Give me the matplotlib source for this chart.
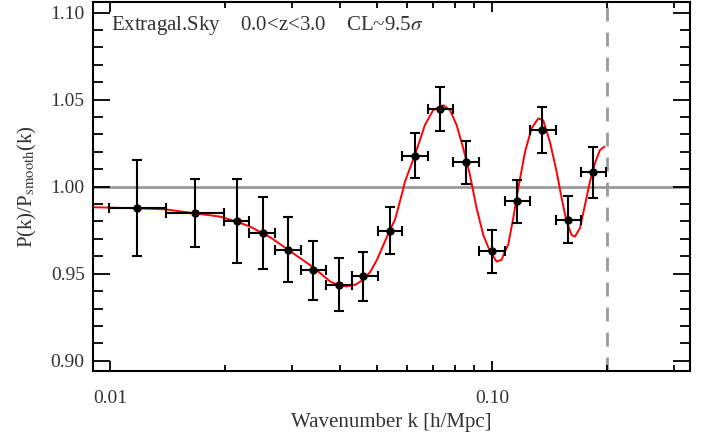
import numpy as np
import matplotlib
matplotlib.use('Agg')
import matplotlib.pyplot as plt
from matplotlib.ticker import FixedLocator, NullFormatter

plt.rcParams['font.family'] = ['Liberation Serif', 'DejaVu Serif']
plt.rcParams['mathtext.fontset'] = 'stix'

# binned measurements
k = [0.01177, 0.01669, 0.02147, 0.02515, 0.02931, 0.03405, 0.03976, 0.04605,
     0.05407, 0.06285, 0.07324, 0.0855, 0.1000, 0.1160, 0.1354, 0.1581, 0.1842]
k_lo = [0.00994, 0.01399, 0.01988, 0.02316, 0.02711, 0.03162, 0.03687, 0.04301,
        0.05017, 0.05824, 0.06800, 0.07926, 0.09247, 0.1081, 0.1258, 0.1468, 0.1707]
k_hi = [0.01399, 0.01988, 0.02316, 0.02711, 0.03162, 0.03687, 0.04301, 0.05017,
        0.05824, 0.06800, 0.07926, 0.09247, 0.1081, 0.1258, 0.1468, 0.1707, 0.1988]
ratio = [0.9876, 0.9849, 0.9803, 0.9733, 0.9637, 0.9519, 0.9437, 0.9484,
         0.9746, 1.0178, 1.0445, 1.0140, 0.9628, 0.9916, 1.0325, 0.9811, 1.0082]
ratio_err = [0.0277, 0.0194, 0.0239, 0.0208, 0.0187, 0.0170, 0.0153, 0.0142,
             0.0135, 0.0129, 0.0126, 0.0123, 0.0123, 0.0124, 0.0130, 0.0136, 0.0147]

# model curve
k_model = [0.00903, 0.01177, 0.01393, 0.01669, 0.01941, 0.02147, 0.02325, 0.02624,
           0.02930, 0.0340, 0.03767, 0.0395, 0.04166, 0.0440, 0.04603, 0.0480,
           0.0500, 0.05408, 0.05572, 0.05802, 0.05920, 0.06285, 0.06676, 0.07018,
           0.07456, 0.07765, 0.08084, 0.08413, 0.08759, 0.09119, 0.09489, 0.09881,
           0.1029, 0.1060, 0.1081, 0.1103, 0.1137, 0.1172, 0.1221, 0.1270,
           0.1322, 0.1362, 0.1418, 0.1477, 0.1522, 0.1568, 0.1616, 0.1649,
           0.1700, 0.1752, 0.1805, 0.1860, 0.1917, 0.1968]
r_model = [0.9882, 0.9876, 0.9870, 0.9847, 0.9828, 0.9799, 0.9771, 0.9710,
           0.9637, 0.9538, 0.9456, 0.9435, 0.9427, 0.9438, 0.9465, 0.9510,
           0.9580, 0.9752, 0.9809, 0.9952, 1.0029, 1.0182, 1.0354, 1.0440,
           1.0468, 1.0440, 1.0354, 1.0220, 1.0067, 0.9876, 0.9723, 0.9628,
           0.9570, 0.9580, 0.9628, 0.9666, 0.9819, 0.9991, 1.0201, 1.0335,
           1.0392, 1.0382, 1.0258, 1.0086, 0.9934, 0.9799, 0.9723, 0.9713,
           0.9762, 0.9895, 1.0029, 1.0134, 1.0210, 1.0229]

k_max = 0.2

fig = plt.figure(figsize=(7.14, 4.47), dpi=100)
ax = fig.add_axes([0.1303, 0.17, 0.8361, 0.8255])

ax.axhline(1.0, color='#999999', lw=2, zorder=1)
ax.axvline(k_max, color='#999999', lw=2, dashes=(5, 4), zorder=1)

ax.plot(k_model, r_model, color='red', lw=1.4, zorder=2)

k_arr = np.array(k)
xerr = [k_arr - np.array(k_lo), np.array(k_hi) - k_arr]
ax.errorbar(k, ratio, yerr=ratio_err, xerr=xerr, fmt='o', color='black',
            ms=5, elinewidth=1.5, capsize=3.5, capthick=1.5, zorder=3)

ax.set_xscale('log')
ax.set_xlim(0.00903, 0.330)
ax.set_ylim(0.8941, 1.1061)

ax.xaxis.set_major_locator(FixedLocator([0.01, 0.1]))
ax.set_xticklabels(['0.01', '0.10'])
ax.xaxis.set_minor_locator(FixedLocator([0.02, 0.03, 0.04, 0.05, 0.06, 0.07, 0.08, 0.09,
                                         0.2, 0.3]))
ax.xaxis.set_minor_formatter(NullFormatter())
ax.set_yticks([0.90, 0.95, 1.00, 1.05, 1.10])
ax.set_yticklabels(['0.90', '0.95', '1.00', '1.05', '1.10'])
ax.yaxis.set_minor_locator(FixedLocator(np.arange(0.89, 1.111, 0.01)))

ax.tick_params(axis='both', which='both', direction='in', top=True, right=True,
               colors='black', labelcolor='#333333', labelsize=14, width=1.3)
ax.tick_params(axis='x', which='major', length=7, pad=14)
ax.tick_params(axis='x', which='minor', length=4)
ax.tick_params(axis='y', which='major', length=12, pad=6)
ax.tick_params(axis='y', which='minor', length=7)
for s in ax.spines.values():
    s.set_linewidth(1.5)

ax.set_xlabel('Wavenumber k [h/Mpc]', fontsize=15, color='#333333', labelpad=4)
ax.set_ylabel(r'P(k)/P$_{\mathrm{smooth}}$(k)', fontsize=15, color='#333333', labelpad=8)

ax.text(0.03, 0.935, r'Extragal.Sky    0.0<z<3.0    CL~9.5$\sigma$', transform=ax.transAxes,
        fontsize=15, color='#333333', va='center', ha='left')

fig.savefig('out.png', dpi=100)
